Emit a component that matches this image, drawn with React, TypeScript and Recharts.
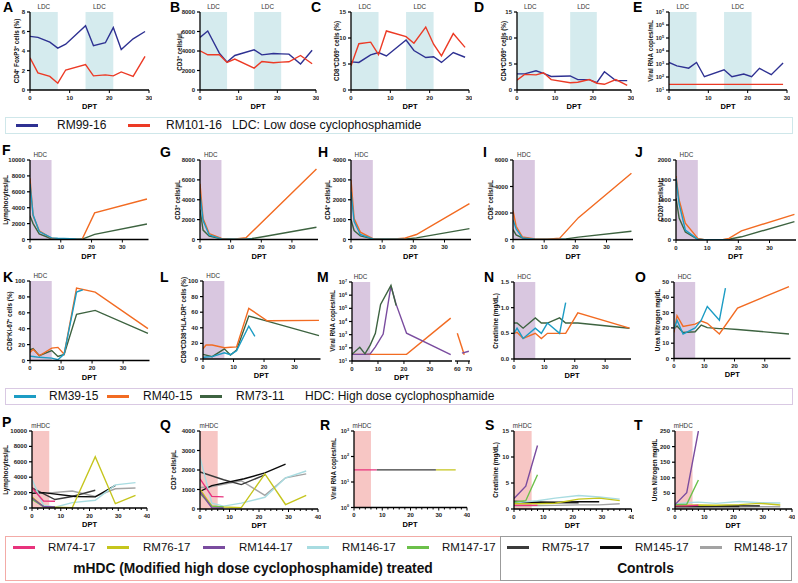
import React from "react";
import { LineChart, Line, XAxis, YAxis, ReferenceArea } from "recharts";

const FONT = "Arial, 'Liberation Sans', Helvetica, sans-serif";

// ---------- colours ----------
const C_BLUE = "#2e3192";
const C_RED = "#ec3a25";
const C_CYAN = "#1c9cc4";
const C_ORANGE = "#f26b22";
const C_GREEN = "#3d6340";
const C_PURPLE = "#7a4c9f";
const C74 = "#e8337c";
const C76 = "#c5c51d";
const C144 = "#7a4c9f";
const C146 = "#a8dce1";
const C147 = "#6cc04a";
const C75 = "#3b3b3b";
const C145 = "#0a0a0a";
const C148 = "#a3a3a3";
const SH_LDC = "#d5ebee";
const SH_HDC = "#d9c7e0";
const SH_MHDC = "#f7c6c4";

// ---------- tick labels ----------
const ticks0to30 = [0, 10, 20, 30];
const ticks0to40 = [0, 10, 20, 30, 40];
const minor0to40 = [0, 2, 4, 6, 8, 10, 12, 14, 16, 18, 20, 22, 24, 26, 28, 30, 32, 34, 36, 38, 40];
const yPct8 = [0, 2, 4, 6, 8];
const y8000 = [0, 2000, 4000, 6000, 8000];
const y15 = [0, 5, 10, 15];
const yLog1to7 = [1e1, 1e2, 1e3, 1e4, 1e5, 1e6, 1e7];
const y10000 = [0, 2000, 4000, 6000, 8000, 10000];
const y4000 = [0, 1000, 2000, 3000, 4000];
const y6000 = [0, 2000, 4000, 6000];
const y2000 = [0, 500, 1000, 1500, 2000];
const y100 = [0, 20, 40, 60, 80, 100];
const y1p5 = [0, 0.5, 1.0, 1.5];
const y50 = [0, 10, 20, 30, 40, 50];
const yLog0to3 = [1, 10, 100, 1000];
const y250 = [0, 50, 100, 150, 200, 250];
const lateTicks = [60, 70];

// ---------- LDC (A–E) ----------
const ldcDays = [0, 2, 5, 7, 9, 14, 16, 19, 21, 23, 26, 29];
const foxp3Rm99 = [5.5, 5.4, 4.9, 4.3, 4.7, 6.6, 4.55, 4.85, 6.4, 4.15, 5.25, 6.0];
const foxp3Rm101 = [3.3, 1.75, 1.4, 0.7, 2.05, 2.6, 1.45, 1.55, 1.45, 1.85, 1.4, 3.45];
const cd3LdcRm99 = [5400, 6050, 3780, 2860, 3540, 4120, 3600, 3740, 3710, 3680, 2660, 4080];
const cd3LdcRm101 = [4020, 3610, 3610, 2830, 3170, 2250, 2930, 2790, 2860, 2890, 3540, 2690];
const cd8cd69Rm99 = [5.4, 5.3, 6.75, 7.2, 6.55, 9.6, 7.6, 6.25, 6.4, 5.3, 7.2, 6.3];
const cd8cd69Rm101 = [4.65, 8.9, 9.2, 6.8, 11.35, 10.25, 9.0, 12.1, 8.8, 6.55, 10.85, 8.2];
const cd4cd69Rm99 = [3.1, 3.1, 3.7, 3.2, 2.6, 2.7, 2.0, 2.0, 1.4, 3.5, 1.8, 1.8];
const cd4cd69Rm101 = [1.9, 3.0, 2.9, 3.3, 2.0, 1.4, 1.5, 2.0, 1.3, 1.1, 2.0, 0.9];
const vlLdcRm99 = [1300, 720, 480, 1300, 105, 360, 105, 170, 105, 460, 150, 1180];
const vlLdcRm101Days = [0, 29];
const vlLdcRm101 = [27, 27];

// ---------- HDC (F–O) ----------
const hdcDays = [0, 1, 3, 7, 9, 11, 15, 17, 21, 38];
const hdcDaysNo17 = [0, 1, 3, 7, 9, 11, 15, 21, 38];
const rm39Days = [0, 1, 3, 7, 9, 11, 15, 17];

const lymphRm39 = [7000, 3100, 1000, 200, 150, 120, 60, 50];
const lymphRm40 = [7700, 3000, 1100, 150, 100, 80, 50, 80, 3350, 5100];
const lymphRm73 = [3000, 2000, 700, 100, 80, 60, 50, 50, 650, 1950];

const cd3Rm39 = [4600, 1900, 450, 60, 40, 20, 30, 40];
const cd3Rm40Days = [0, 1, 3, 7, 9, 11, 15, 38];
const cd3Rm40 = [5600, 2100, 600, 100, 50, 30, 170, 7100];
const cd3Rm73 = [3000, 950, 330, 80, 50, 30, 30, 100, 300, 1230];

const cd4Rm39 = [2400, 900, 250, 30, 20, 20, 20, 20];
const cd4Rm40 = [3000, 1050, 370, 40, 30, 20, 40, 60, 250, 1800];
const cd4Rm73 = [1000, 450, 180, 30, 20, 15, 20, 20, 80, 550];

const cd8Rm39 = [1500, 800, 120, 20, 10, 10, 10, 10];
const cd8Rm40 = [2200, 1000, 200, 50, 20, 20, 100, 1650, 5000];
const cd8Rm73 = [750, 350, 120, 20, 10, 10, 20, 50, 180, 620];

const cd20Rm39 = [1550, 900, 250, 20, 10, 10, 10, 10];
const cd20Rm40 = [1600, 1000, 420, 40, 10, 10, 10, 40, 230, 640];
const cd20Rm73 = [1050, 550, 200, 20, 10, 10, 10, 20, 80, 460];

const ki67Rm39 = [5.5, 5, 4, 3, 1, 8, 86, 89];
const ki67Rm40 = [10, 14, 6, 15.5, 16.5, 8, 91, 86, 40];
const ki67Rm73 = [13.5, 15, 6, 12.5, 5, 7.5, 58, 63, 34];

const hladrRm39 = [2, 2.5, 3, 8, 5.5, 10.5, 42, 29];
const hladrRm40 = [13, 18, 18, 14.5, 15, 15.5, 65, 49, 49.5];
const hladrRm73 = [6, 5, 3, 13, 5, 11.5, 55, 48.5, 30];

const vlRm73Days = [0, 3, 5, 7, 9, 11, 15, 17];
const vlRm73 = [32, 110, 35, 160, 1250, 200000, 5600000, 160000];
const vlRm39Days = [0, 5, 7, 9, 12, 15, 17, 21, 38];
const vlRm39 = [32, 32, 35, 120, 1100, 5000000, 200000, 1300, 30];
const vlRm40Days = [0, 21, 38];
const vlRm40 = [32, 32, 18000];
const vlRm40LateDays = [60, 66];
const vlRm40Late = [1300, 30];
const vlRm39LateDays = [64, 70];
const vlRm39Late = [40, 55];

const creatRm39 = [0.5, 0.6, 0.4, 0.6, 0.5, 0.7, 0.5, 1.1];
const creatRm40 = [0.5, 0.52, 0.4, 0.5, 0.4, 0.5, 0.5, 0.5, 0.9, 0.6];
const creatRm73 = [0.7, 0.7, 0.6, 0.8, 0.7, 0.7, 0.8, 0.7, 0.7, 0.6];

const bunRm39 = [19, 25, 16, 20, 25, 34, 25, 46];
const bunRm40 = [17, 28, 21, 22.5, 24.5, 23, 16, 33, 47];
const bunRm73 = [19.5, 21.3, 17, 17.5, 21.8, 20.2, 19.5, 19.5, 19, 16];

// ---------- mHDC (P–T) ----------
const d74 = [0, 4, 8];
const d76 = [0, 4, 8, 14, 22, 29, 36];
const d144 = [0, 4, 8];
const d146 = [0, 4, 8, 14, 22, 29, 36];
const d147 = [0, 4, 8];
const d75 = [0, 8, 14, 22];
const d145 = [0, 4, 15, 22, 29];
const d148 = [0, 4, 14, 22, 29, 36];

const lymM74 = [2600, 900, 870];
const lymM76 = [1430, 150, 100, 40, 6650, 560, 1650];
const lymM144 = [1300, 200, 150];
const lymM146 = [3700, 350, 100, 700, 1000, 3000, 3300];
const lymM147 = [1100, 200, 150];
const lymM75 = [2600, 1100, 1500, 2300];
const lymM145 = [1900, 2000, 1500, 1450, 2950];
const lymM148 = [2100, 1900, 2200, 1500, 2500, 2600];

const cd3M74 = [1550, 650, 620];
const cd3M76 = [1000, 150, 100, 70, 1800, 230, 700];
const cd3M144 = [900, 60, 50];
const cd3M146 = [2650, 300, 150, 300, 600, 1600, 1950];
const cd3M147 = [800, 150, 100];
const cd3M75 = [1900, 1500, 1250, 1750];
const cd3M145 = [900, 1200, 1550, 1850, 2300];
const cd3M148 = [1100, 1150, 1450, 700, 1600, 1800];

const vlM74Days = [0, 8];
const vlM74 = [30, 30];
const vlM145Days = [8, 29];
const vlM145 = [30, 30];
const vlM76Days = [29, 36];
const vlM76 = [30, 30];

const crM74 = [0.7, 0.7, 0.7];
const crM76 = [1.0, 1.0, 1.0, 1.1, 1.9, 2.1, 1.6];
const crM144 = [2.0, 4.4, 12.2];
const crM146 = [1.2, 1.4, 1.6, 2.1, 2.6, 2.3, 1.9];
const crM147 = [1.3, 1.6, 6.6];
const crM75 = [1.5, 1.3, 1.2, 1.2];
const crM145 = [1.3, 1.3, 1.3, 1.4, 1.4];
const crM148 = [0.6, 0.6, 0.7, 0.8, 0.8, 1.0];

const bunM74 = [10, 10, 12];
const bunM76 = [12, 12, 13, 12, 14, 18, 13];
const bunM144 = [14, 52, 250];
const bunM146 = [15, 20, 22, 18, 24, 20, 19];
const bunM147 = [14, 15, 93];
const bunM75 = [8, 8, 8, 8];
const bunM145 = [10, 10, 10, 10, 10];
const bunM148 = [5, 5, 6, 6, 7, 7];

// ---------- legends ----------
const ldcNames = ["RM99-16", "RM101-16"];
const hdcNames = ["RM39-15", "RM40-15", "RM73-11"];
const mhdcNames = ["RM74-17", "RM76-17", "RM144-17", "RM146-17", "RM147-17"];
const ctrlNames = ["RM75-17", "RM145-17", "RM148-17"];

type Ser = { days: number[]; vals: number[]; color: string };
type Cfg = {
  letter?: string; lx?: number; ly?: number;
  px: number; py: number; pw: number; ph: number;
  xDomain: [number, number]; xTicks: number[]; xAll?: number[];
  yDomain: [number, number]; yTicks: number[]; log?: boolean; dec?: number;
  yLabel?: string; ylx?: number; noY?: boolean; noDpt?: boolean;
  series: Ser[]; shades: [number, number][]; shadeColor: string; shadeLabel?: string;
};

const ML = 34, MT = 4, MR = 3, MB = 14;

const toPts = (days: number[], vals: number[]) => days.map((x, i) => ({ x, y: vals[i] }));

const XTick = (props: any) => {
  const { x, y, payload, majors } = props;
  const v = payload.value;
  const major = majors.includes(v);
  const ay = y - 5;
  return (
    <g>
      <line x1={x} x2={x} y1={ay} y2={ay + (major ? 3 : 2)} stroke="#000" strokeWidth={1} />
      {major && (
        <text x={x} y={ay + 9.5} textAnchor="middle" fontSize={6} fontWeight="bold" fontFamily={FONT} fill="#222">
          {v}
        </text>
      )}
    </g>
  );
};

const YTick = (props: any) => {
  const { x, y, payload, log, dec } = props;
  const v = payload.value;
  if (log) {
    const e = Math.round(Math.log10(v));
    return (
      <text x={x} y={y + 2} textAnchor="end" fontSize={5.5} fontWeight="bold" fontFamily={FONT} fill="#222">
        10<tspan dy={-2.5} fontSize={3.8}>{e}</tspan>
      </text>
    );
  }
  return (
    <text x={x} y={y + 2} textAnchor="end" fontSize={6} fontWeight="bold" fontFamily={FONT} fill="#222">
      {dec ? v.toFixed(dec) : v}
    </text>
  );
};

function Panel({ c }: { c: Cfg }) {
  const ml = c.noY ? 2 : ML;
  const w = c.pw + ml + MR;
  const h = c.ph + MT + MB;
  const [d0, d1] = c.xDomain;
  const sx = (v: number) => c.px + ((v - d0) / (d1 - d0)) * c.pw;
  return (
    <>
      <div style={{ position: "absolute", left: c.px - ml, top: c.py - MT }}>
        <LineChart width={w} height={h} margin={{ top: MT, right: MR, bottom: 0, left: c.noY ? ml : 0 }}>
          <XAxis
            type="number" dataKey="x" domain={c.xDomain} ticks={c.xAll ?? c.xTicks} interval={0}
            allowDataOverflow height={MB} tickSize={3} tickMargin={2} tickLine={false}
            axisLine={{ stroke: "#000", strokeWidth: 1.3 }}
            tick={(p: any) => <XTick {...p} majors={c.xTicks} />}
          />
          <YAxis
            type="number" hide={c.noY} width={ML} domain={c.yDomain} scale={c.log ? "log" : "linear"}
            ticks={c.yTicks} interval={0} allowDataOverflow tickSize={3} tickMargin={2}
            tickLine={{ stroke: "#000", strokeWidth: 1.2 }} axisLine={{ stroke: "#000", strokeWidth: 1.3 }}
            tick={(p: any) => <YTick {...p} log={c.log} dec={c.dec} />}
          />
          {c.shades.map(([a, b], i) => (
            <ReferenceArea key={i} x1={a} x2={b} fill={c.shadeColor} fillOpacity={1} stroke="none" />
          ))}
          {c.series.map((s, i) => (
            <Line
              key={i} data={toPts(s.days, s.vals)} dataKey="y" type="linear" stroke={s.color}
              strokeWidth={1.4} dot={false} activeDot={false} isAnimationActive={false}
            />
          ))}
        </LineChart>
      </div>
      {c.letter && (
        <div style={{ position: "absolute", left: c.lx, top: (c.ly ?? 0) - 8, fontSize: 14, fontWeight: "bold", lineHeight: "16px" }}>
          {c.letter}
        </div>
      )}
      {c.yLabel && (
        <div
          style={{
            position: "absolute", left: c.ylx, top: c.py + c.ph / 2,
            transform: "translate(-50%,-50%) rotate(-90deg)", fontSize: 6.3, fontWeight: "bold",
            whiteSpace: "nowrap", lineHeight: "8px", color: "#111",
          }}
        >
          {c.yLabel}
        </div>
      )}
      {!c.noDpt && (
        <div style={{ position: "absolute", left: c.px + c.pw / 2 - 20, width: 40, textAlign: "center", top: c.py + c.ph + 12, fontSize: 7.5, fontWeight: "bold", lineHeight: "10px" }}>
          DPT
        </div>
      )}
      {c.shadeLabel &&
        c.shades.map(([a, b], i) => (
          <div
            key={i}
            style={{ position: "absolute", left: sx((a + b) / 2) - 20, width: 40, textAlign: "center", top: c.py - 9, fontSize: 6.3, lineHeight: "8px", color: "#333" }}
          >
            {c.shadeLabel}
          </div>
        ))}
    </>
  );
}

const ldcShade: [number, number][] = [[0, 7], [14, 21]];
const hdcShade: [number, number][] = [[0, 7]];
const mhdcShade: [number, number][] = [[0, 6]];

const row1 = (letter: string, lx: number, px: number, pw: number, ylx: number, yLabel: string, yDomain: [number, number], yTicks: number[], a: number[], b: number[], log = false, bDays = ldcDays): Cfg => ({
  letter, lx, ly: 7, px, py: 12, pw, ph: 78, xDomain: [0, 30], xTicks: ticks0to30,
  yDomain, yTicks, log, yLabel, ylx, shades: ldcShade, shadeColor: SH_LDC, shadeLabel: "LDC",
  series: [
    { days: ldcDays, vals: a, color: C_BLUE },
    { days: bDays, vals: b, color: C_RED },
  ],
});

const hdcSeries = (s39: Ser, s40: Ser, s73: Ser) => [s73, s40, s39];

const panels: Cfg[] = [
  row1("A", 3, 30, 119, 17, "CD4⁺ FoxP3⁺ cells (%)", [0, 8], yPct8, foxp3Rm99, foxp3Rm101),
  row1("B", 170, 200, 116, 180, "CD3⁺ cells/µL", [0, 8000], y8000, cd3LdcRm99, cd3LdcRm101),
  row1("C", 311, 351, 118, 337, "CD8⁺CD69⁺ cells (%)", [0, 15], y15, cd8cd69Rm99, cd8cd69Rm101),
  row1("D", 474, 517, 114, 504, "CD4⁺CD69⁺ cells (%)", [0, 15], y15, cd4cd69Rm99, cd4cd69Rm101),
  row1("E", 633, 669, 118, 651, "Viral RNA copies/mL", [10, 1e7], yLog1to7, vlLdcRm99, vlLdcRm101, true, vlLdcRm101Days),
  // row 2
  {
    letter: "F", lx: 2, ly: 150, px: 29.5, py: 160, pw: 118.5, ph: 79.5, xDomain: [0, 38.5], xTicks: ticks0to30,
    yDomain: [0, 10000], yTicks: y10000, yLabel: "Lymphocytes/µL", ylx: 6, shades: hdcShade, shadeColor: SH_HDC, shadeLabel: "HDC",
    series: hdcSeries({ days: rm39Days, vals: lymphRm39, color: C_CYAN }, { days: hdcDays, vals: lymphRm40, color: C_ORANGE }, { days: hdcDays, vals: lymphRm73, color: C_GREEN }),
  },
  {
    letter: "G", lx: 160, ly: 152, px: 200, py: 160, pw: 118, ph: 79.5, xDomain: [0, 38.5], xTicks: ticks0to30,
    yDomain: [0, 8000], yTicks: y8000, yLabel: "CD3⁺ cells/µL", ylx: 178, shades: hdcShade, shadeColor: SH_HDC, shadeLabel: "HDC",
    series: hdcSeries({ days: rm39Days, vals: cd3Rm39, color: C_CYAN }, { days: cd3Rm40Days, vals: cd3Rm40, color: C_ORANGE }, { days: hdcDays, vals: cd3Rm73, color: C_GREEN }),
  },
  {
    letter: "H", lx: 318, ly: 152, px: 350.5, py: 160, pw: 120, ph: 79.5, xDomain: [0, 38.5], xTicks: ticks0to30,
    yDomain: [0, 4000], yTicks: y4000, yLabel: "CD4⁺ cells/µL", ylx: 328, shades: hdcShade, shadeColor: SH_HDC, shadeLabel: "HDC",
    series: hdcSeries({ days: rm39Days, vals: cd4Rm39, color: C_CYAN }, { days: hdcDays, vals: cd4Rm40, color: C_ORANGE }, { days: hdcDays, vals: cd4Rm73, color: C_GREEN }),
  },
  {
    letter: "I", lx: 483, ly: 152, px: 513, py: 160, pw: 120, ph: 79.5, xDomain: [0, 38.5], xTicks: ticks0to30,
    yDomain: [0, 6000], yTicks: y6000, yLabel: "CD8⁺ cells/µL", ylx: 491, shades: hdcShade, shadeColor: SH_HDC, shadeLabel: "HDC",
    series: hdcSeries({ days: rm39Days, vals: cd8Rm39, color: C_CYAN }, { days: hdcDaysNo17, vals: cd8Rm40, color: C_ORANGE }, { days: hdcDays, vals: cd8Rm73, color: C_GREEN }),
  },
  {
    letter: "J", lx: 635, ly: 152, px: 675.5, py: 160, pw: 120, ph: 80, xDomain: [0, 38.5], xTicks: ticks0to30,
    yDomain: [0, 2000], yTicks: y2000, yLabel: "CD20⁺ cells/µL", ylx: 661, shades: hdcShade, shadeColor: SH_HDC, shadeLabel: "HDC",
    series: hdcSeries({ days: rm39Days, vals: cd20Rm39, color: C_CYAN }, { days: hdcDays, vals: cd20Rm40, color: C_ORANGE }, { days: hdcDays, vals: cd20Rm73, color: C_GREEN }),
  },
  // row 3
  {
    letter: "K", lx: 3, ly: 277, px: 29.5, py: 281, pw: 119.5, ph: 79.5, xDomain: [0, 38.5], xTicks: ticks0to30,
    yDomain: [0, 100], yTicks: y100, yLabel: "CD8⁺Ki-67⁺ cells (%)", ylx: 10, shades: hdcShade, shadeColor: SH_HDC, shadeLabel: "HDC",
    series: hdcSeries({ days: rm39Days, vals: ki67Rm39, color: C_CYAN }, { days: hdcDaysNo17, vals: ki67Rm40, color: C_ORANGE }, { days: hdcDaysNo17, vals: ki67Rm73, color: C_GREEN }),
  },
  {
    letter: "L", lx: 160, ly: 277, px: 202.5, py: 281, pw: 117.5, ph: 78, xDomain: [0, 38.5], xTicks: ticks0to30,
    yDomain: [0, 100], yTicks: y100, yLabel: "CD8⁺CD38⁺HLA-DR⁺ cells (%)", ylx: 184, shades: hdcShade, shadeColor: SH_HDC, shadeLabel: "HDC",
    series: hdcSeries({ days: rm39Days, vals: hladrRm39, color: C_CYAN }, { days: hdcDaysNo17, vals: hladrRm40, color: C_ORANGE }, { days: hdcDaysNo17, vals: hladrRm73, color: C_GREEN }),
  },
  {
    letter: "M", lx: 317, ly: 277, px: 351.5, py: 281.5, pw: 100, ph: 79, xDomain: [0, 38.5], xTicks: ticks0to30,
    yDomain: [10, 1e7], yTicks: yLog1to7, log: true, yLabel: "Viral RNA copies/mL", ylx: 333, shades: hdcShade, shadeColor: SH_HDC, shadeLabel: "HDC",
    series: [
      { days: vlRm40Days, vals: vlRm40, color: C_ORANGE },
      { days: vlRm39Days, vals: vlRm39, color: C_PURPLE },
      { days: vlRm73Days, vals: vlRm73, color: C_GREEN },
    ],
  },
  {
    px: 455, py: 281.5, pw: 15, ph: 79, xDomain: [58, 71], xTicks: lateTicks, noY: true, noDpt: true,
    yDomain: [10, 1e7], yTicks: yLog1to7, log: true, shades: [], shadeColor: SH_HDC,
    series: [
      { days: vlRm40LateDays, vals: vlRm40Late, color: C_ORANGE },
      { days: vlRm39LateDays, vals: vlRm39Late, color: C_PURPLE },
    ],
  },
  {
    letter: "N", lx: 484, ly: 277, px: 513.5, py: 282, pw: 117, ph: 77, xDomain: [0, 38.5], xTicks: ticks0to30,
    yDomain: [0, 1.5], yTicks: y1p5, dec: 1, yLabel: "Creatinine (mg/dL)", ylx: 496, shades: hdcShade, shadeColor: SH_HDC, shadeLabel: "HDC",
    series: hdcSeries({ days: rm39Days, vals: creatRm39, color: C_CYAN }, { days: hdcDays, vals: creatRm40, color: C_ORANGE }, { days: hdcDays, vals: creatRm73, color: C_GREEN }),
  },
  {
    letter: "O", lx: 635, ly: 277, px: 674, py: 281.5, pw: 116.5, ph: 76.5, xDomain: [0, 38.5], xTicks: ticks0to30,
    yDomain: [0, 50], yTicks: y50, yLabel: "Urea Nitrogen mg/dL", ylx: 658, shades: hdcShade, shadeColor: SH_HDC, shadeLabel: "HDC",
    series: hdcSeries({ days: rm39Days, vals: bunRm39, color: C_CYAN }, { days: hdcDaysNo17, vals: bunRm40, color: C_ORANGE }, { days: hdcDays, vals: bunRm73, color: C_GREEN }),
  },
  // row 4
  {
    letter: "P", lx: 2, ly: 422, px: 32, py: 431, pw: 115, ph: 77, xDomain: [0, 40], xTicks: ticks0to40, xAll: minor0to40,
    yDomain: [0, 10000], yTicks: y10000, yLabel: "Lymphocytes/µL", ylx: 6, shades: mhdcShade, shadeColor: SH_MHDC, shadeLabel: "mHDC",
    series: [
      { days: d148, vals: lymM148, color: C148 }, { days: d75, vals: lymM75, color: C75 }, { days: d145, vals: lymM145, color: C145 },
      { days: d146, vals: lymM146, color: C146 }, { days: d76, vals: lymM76, color: C76 }, { days: d74, vals: lymM74, color: C74 },
      { days: d147, vals: lymM147, color: C147 }, { days: d144, vals: lymM144, color: C144 },
    ],
  },
  {
    letter: "Q", lx: 160, ly: 425, px: 200, py: 431, pw: 118, ph: 78, xDomain: [0, 40], xTicks: ticks0to40, xAll: minor0to40,
    yDomain: [0, 4000], yTicks: y4000, yLabel: "CD3⁺ cells/µL", ylx: 174, shades: mhdcShade, shadeColor: SH_MHDC, shadeLabel: "mHDC",
    series: [
      { days: d148, vals: cd3M148, color: C148 }, { days: d75, vals: cd3M75, color: C75 }, { days: d145, vals: cd3M145, color: C145 },
      { days: d146, vals: cd3M146, color: C146 }, { days: d76, vals: cd3M76, color: C76 }, { days: d74, vals: cd3M74, color: C74 },
      { days: d147, vals: cd3M147, color: C147 }, { days: d144, vals: cd3M144, color: C144 },
    ],
  },
  {
    letter: "R", lx: 320, ly: 425, px: 353.5, py: 431, pw: 113, ph: 76.5, xDomain: [0, 40], xTicks: ticks0to40, xAll: minor0to40,
    yDomain: [1, 1000], yTicks: yLog0to3, log: true, yLabel: "Viral RNA copies/mL", ylx: 334, shades: mhdcShade, shadeColor: SH_MHDC, shadeLabel: "mHDC",
    series: [
      { days: vlM145Days, vals: vlM145, color: C75 },
      { days: vlM76Days, vals: vlM76, color: C76 },
      { days: vlM74Days, vals: vlM74, color: C74 },
    ],
  },
  {
    letter: "S", lx: 485, ly: 425, px: 513.5, py: 431, pw: 117.5, ph: 78, xDomain: [0, 40], xTicks: ticks0to40, xAll: minor0to40,
    yDomain: [0, 15], yTicks: y15, yLabel: "Creatinine (mg/dL)", ylx: 496, shades: mhdcShade, shadeColor: SH_MHDC, shadeLabel: "mHDC",
    series: [
      { days: d148, vals: crM148, color: C148 }, { days: d75, vals: crM75, color: C75 }, { days: d145, vals: crM145, color: C145 },
      { days: d146, vals: crM146, color: C146 }, { days: d76, vals: crM76, color: C76 }, { days: d74, vals: crM74, color: C74 },
      { days: d147, vals: crM147, color: C147 }, { days: d144, vals: crM144, color: C144 },
    ],
  },
  {
    letter: "T", lx: 634, ly: 425, px: 674.5, py: 431, pw: 117, ph: 78, xDomain: [0, 40], xTicks: ticks0to40, xAll: minor0to40,
    yDomain: [0, 250], yTicks: y250, yLabel: "Urea Nitrogen mg/dL", ylx: 655, shades: mhdcShade, shadeColor: SH_MHDC, shadeLabel: "mHDC",
    series: [
      { days: d148, vals: bunM148, color: C148 }, { days: d75, vals: bunM75, color: C75 }, { days: d145, vals: bunM145, color: C145 },
      { days: d146, vals: bunM146, color: C146 }, { days: d76, vals: bunM76, color: C76 }, { days: d74, vals: bunM74, color: C74 },
      { days: d147, vals: bunM147, color: C147 }, { days: d144, vals: bunM144, color: C144 },
    ],
  },
];

const LegItem = ({ lineX, textX, cy, color, label, fs = 12 }: any) => (
  <>
    <div style={{ position: "absolute", left: lineX, top: cy - 1.5, width: 22, height: 3, background: color }} />
    <div style={{ position: "absolute", left: textX, top: cy - 7.5, fontSize: fs, lineHeight: "15px", whiteSpace: "nowrap", color: "#111" }}>
      {label}
    </div>
  </>
);

const box = (left: number, top: number, width: number, height: number, color: string): React.CSSProperties => ({
  position: "absolute", left, top, width, height, border: `1.5px solid ${color}`, boxSizing: "border-box",
});

export default function App() {
  return (
    <div style={{ position: "absolute", left: 0, top: 0, width: 798, height: 583, background: "#fff", fontFamily: FONT, overflow: "hidden" }}>
      {panels.map((c, i) => (
        <Panel key={i} c={c} />
      ))}

      {/* legend LDC */}
      <div style={box(5, 117, 788, 17, "#cfe7ea")} />
      <LegItem lineX={16} textX={57} cy={125.5} color={C_BLUE} label={ldcNames[0]} />
      <LegItem lineX={128} textX={166} cy={125.5} color={C_RED} label={ldcNames[1]} />
      <div style={{ position: "absolute", left: 232, top: 118, fontSize: 12.3, lineHeight: "15px", color: "#111" }}>
        LDC: Low dose cyclophosphamide
      </div>

      {/* legend HDC */}
      <div style={box(5, 388, 788, 17, "#d9c9e3")} />
      <LegItem lineX={14} textX={49} cy={396.5} color={C_CYAN} label={hdcNames[0]} />
      <LegItem lineX={107} textX={143} cy={396.5} color={C_ORANGE} label={hdcNames[1]} />
      <LegItem lineX={200} textX={236} cy={396.5} color={C_GREEN} label={hdcNames[2]} />
      <div style={{ position: "absolute", left: 305, top: 389, fontSize: 12, lineHeight: "15px", color: "#111" }}>
        HDC: High dose cyclophosphamide
      </div>

      {/* legend mHDC / controls */}
      <div style={box(5, 536, 496, 45, "#f3aba7")} />
      <div style={box(499.5, 536, 292, 45, "#9b9b9b")} />
      <LegItem lineX={13} textX={48} cy={547.5} color={C74} label={mhdcNames[0]} fs={11.5} />
      <LegItem lineX={107} textX={143} cy={547.5} color={C76} label={mhdcNames[1]} fs={11.5} />
      <LegItem lineX={203} textX={239} cy={547.5} color={C144} label={mhdcNames[2]} fs={11.5} />
      <LegItem lineX={307} textX={342} cy={547.5} color={C146} label={mhdcNames[3]} fs={11.5} />
      <LegItem lineX={407} textX={442} cy={547.5} color={C147} label={mhdcNames[4]} fs={11.5} />
      <LegItem lineX={507} textX={542} cy={547.5} color={C75} label={ctrlNames[0]} fs={11.5} />
      <LegItem lineX={600} textX={635} cy={547.5} color={C145} label={ctrlNames[1]} fs={11.5} />
      <LegItem lineX={700} textX={734} cy={547.5} color={C148} label={ctrlNames[2]} fs={11.5} />
      <div style={{ position: "absolute", left: 5, width: 496, textAlign: "center", top: 560, fontSize: 13.8, fontWeight: "bold", lineHeight: "18px", color: "#111" }}>
        mHDC (Modified high dose cyclophosphamide) treated
      </div>
      <div style={{ position: "absolute", left: 500, width: 291, textAlign: "center", top: 560, fontSize: 13.8, fontWeight: "bold", lineHeight: "18px", color: "#111" }}>
        Controls
      </div>
    </div>
  );
}
